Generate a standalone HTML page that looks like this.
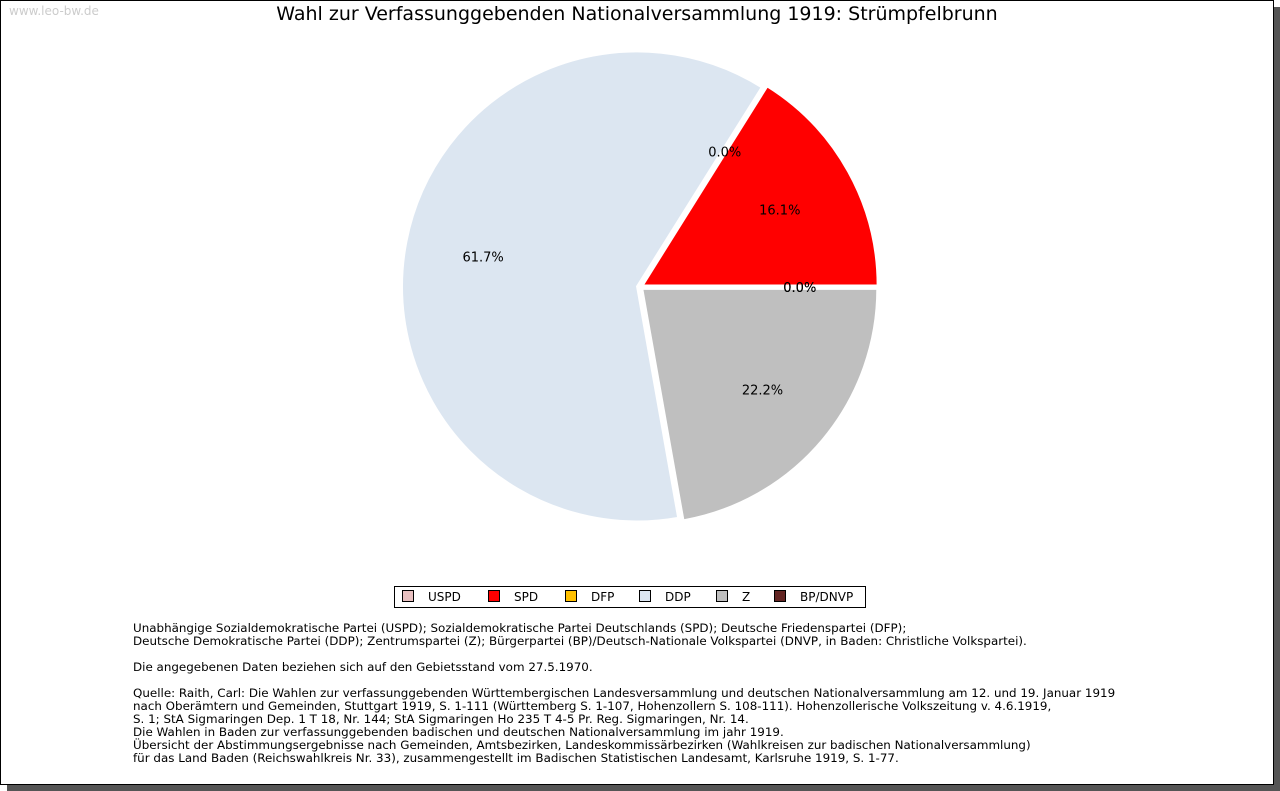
<!DOCTYPE html>
<html><head><meta charset="utf-8">
<style>
body{margin:0;width:1280px;height:791px;background:#fff;position:relative;overflow:hidden;font-family:"DejaVu Sans","Liberation Sans",sans-serif}
#shadow{position:absolute;left:7px;top:7px;width:1273px;height:784px;background:#555}
#frame{position:absolute;left:0;top:0;width:1272px;height:783px;background:#fff;border:1px solid #000}
#wm{position:absolute;left:9px;top:4px;font-size:12px;color:#ccc}
#title{position:absolute;left:0;width:1274px;top:3px;text-align:center;font-size:19px;color:#000}
#legend{position:absolute;left:394px;top:586px;width:470px;height:20px;border:1px solid #000;font-size:12px}
.le{position:absolute;top:3px;height:14px;line-height:14px}
.sw{display:inline-block;width:10px;height:10px;border:1px solid #000;vertical-align:-1px;margin-right:14px}
#notes{position:absolute;left:133px;top:622px;font-size:11.9px;line-height:13px;color:#000;white-space:pre}
</style></head><body>
<div id="shadow"></div>
<div id="frame"></div>
<div id="wm">www.leo-bw.de</div>
<div id="title">Wahl zur Verfassunggebenden Nationalversammlung 1919: Strümpfelbrunn</div>
<svg id="pie" width="1280" height="791" style="position:absolute;left:0;top:0"></svg>
<div id="legend">
<div class="le" style="left:7px"><span class="sw" style="background:#e8c0c0"></span>USPD</div>
<div class="le" style="left:93px"><span class="sw" style="background:#ff0000"></span>SPD</div>
<div class="le" style="left:170px"><span class="sw" style="background:#ffc000"></span>DFP</div>
<div class="le" style="left:244px"><span class="sw" style="background:#dce6f1"></span>DDP</div>
<div class="le" style="left:321px"><span class="sw" style="background:#bfbfbf"></span>Z</div>
<div class="le" style="left:379px"><span class="sw" style="background:#632523"></span>BP/DNVP</div>
</div>
<div id="notes">Unabhängige Sozialdemokratische Partei (USPD); Sozialdemokratische Partei Deutschlands (SPD); Deutsche Friedenspartei (DFP);
Deutsche Demokratische Partei (DDP); Zentrumspartei (Z); Bürgerpartei (BP)/Deutsch-Nationale Volkspartei (DNVP, in Baden: Christliche Volkspartei).

Die angegebenen Daten beziehen sich auf den Gebietsstand vom 27.5.1970.

Quelle: Raith, Carl: Die Wahlen zur verfassunggebenden Württembergischen Landesversammlung und deutschen Nationalversammlung am 12. und 19. Januar 1919
nach Oberämtern und Gemeinden, Stuttgart 1919, S. 1-111 (Württemberg S. 1-107, Hohenzollern S. 108-111). Hohenzollerische Volkszeitung v. 4.6.1919,
S. 1; StA Sigmaringen Dep. 1 T 18, Nr. 144; StA Sigmaringen Ho 235 T 4-5 Pr. Reg. Sigmaringen, Nr. 14.
Die Wahlen in Baden zur verfassunggebenden badischen und deutschen Nationalversammlung im jahr 1919.
Übersicht der Abstimmungsergebnisse nach Gemeinden, Amtsbezirken, Landeskommissärbezirken (Wahlkreisen zur badischen Nationalversammlung)
für das Land Baden (Reichswahlkreis Nr. 33), zusammengestellt im Badischen Statistischen Landesamt, Karlsruhe 1919, S. 1-77.</div>
<script>
const parties=["USPD","SPD","DFP","DDP","Z","BP/DNVP"];
const shares=[0.0,16.1,0.0,61.7,22.2,0.0];
const colors=["#e8c0c0","#ff0000","#ffc000","#dce6f1","#bfbfbf","#632523"];
const svg=document.getElementById('pie');
const NS="http://www.w3.org/2000/svg";
const cx=640,cy=287,r=235,ex=3;
const total=shares.reduce((a,b)=>a+b,0);
let a0=0;
const labels=[];
shares.forEach((v,i)=>{
  const sweep=v/total*2*Math.PI;
  const a1=a0+sweep, mid=(a0+a1)/2;
  const ox=cx+ex*Math.cos(mid), oy=cy-ex*Math.sin(mid);
  if(sweep>0){
    const p=document.createElementNS(NS,'path');
    const x0=ox+r*Math.cos(a0),y0=oy-r*Math.sin(a0),x1=ox+r*Math.cos(a1),y1=oy-r*Math.sin(a1);
    p.setAttribute('d',`M${ox},${oy}L${x0},${y0}A${r},${r} 0 ${sweep>Math.PI?1:0} 0 ${x1},${y1}Z`);
    p.setAttribute('fill',colors[i]);p.setAttribute('stroke','#fff');p.setAttribute('stroke-width','2');
    
    
    svg.appendChild(p);
  }
  labels.push([v,mid,i]);
  a0=a1;
});
labels.forEach(([v,mid,i])=>{
  const t=document.createElementNS(NS,'text');
  t.setAttribute('x',cx+0.68*r*Math.cos(mid));t.setAttribute('y',cy-0.68*r*Math.sin(mid)+5);
  t.setAttribute('text-anchor','middle');t.setAttribute('font-size','13');
  t.setAttribute('font-family','"DejaVu Sans","Liberation Sans",sans-serif');
  t.textContent=v.toFixed(1)+'%';
  
  
  svg.appendChild(t);
});
</script>
</body></html>
